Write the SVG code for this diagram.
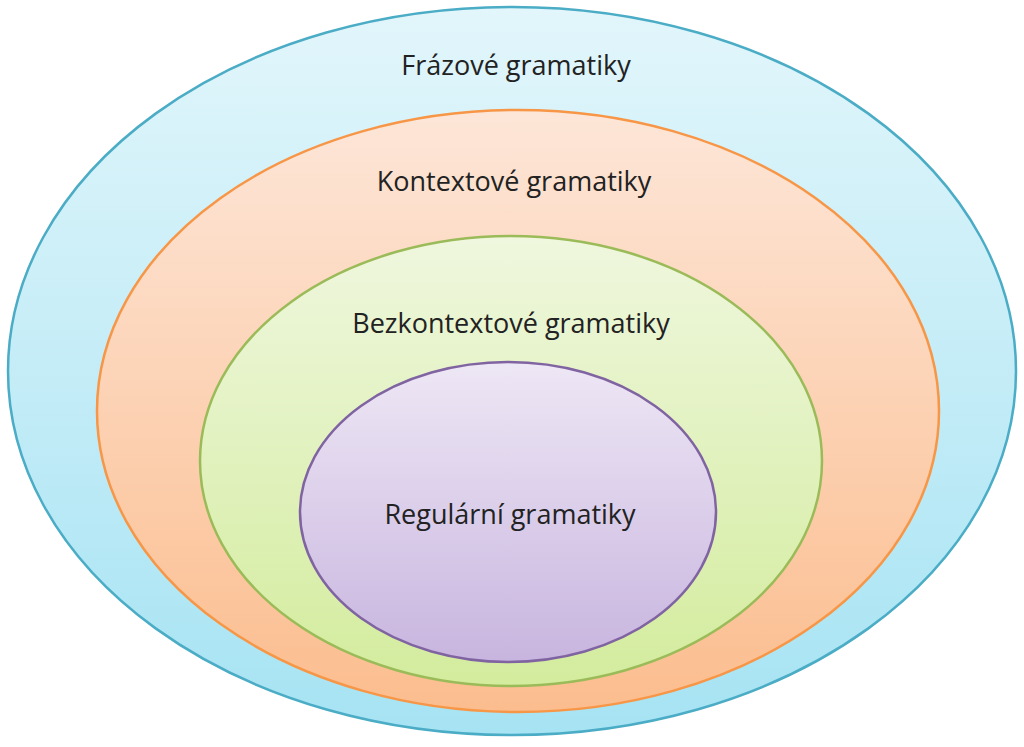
<svg xmlns="http://www.w3.org/2000/svg" width="1024" height="747" viewBox="0 0 1024 747">
<defs>
<linearGradient id="gb" x1="0" y1="0" x2="0" y2="1"><stop offset="0" stop-color="#e2f6fb"/><stop offset="1" stop-color="#a6e3f3"/></linearGradient>
<linearGradient id="go" x1="0" y1="0" x2="0" y2="1"><stop offset="0" stop-color="#fde6d8"/><stop offset="1" stop-color="#fbbd8e"/></linearGradient>
<linearGradient id="gg" x1="0" y1="0" x2="0" y2="1"><stop offset="0" stop-color="#eff7de"/><stop offset="1" stop-color="#d3ec9d"/></linearGradient>
<linearGradient id="gp" x1="0" y1="0" x2="0" y2="1"><stop offset="0" stop-color="#eee7f5"/><stop offset="1" stop-color="#c8b5df"/></linearGradient>
<style>text{font-family:"Open Sans","Liberation Sans",sans-serif;font-size:27px;fill:#222;text-anchor:middle}ellipse{stroke-width:2.5}</style>
</defs>
<g id="frazove"><ellipse cx="512" cy="371" rx="504" ry="364" fill="url(#gb)" stroke="#4bacc6"/><text x="516" y="75">Frázové gramatiky</text></g>
<g id="kontextove"><ellipse cx="518" cy="411" rx="421" ry="301" fill="url(#go)" stroke="#f79646"/><text x="514" y="191">Kontextové gramatiky</text></g>
<g id="bezkontextove"><ellipse cx="511" cy="461" rx="311" ry="225" fill="url(#gg)" stroke="#9bbb59"/><text x="511" y="333">Bezkontextové gramatiky</text></g>
<g id="regularni"><ellipse cx="508" cy="512" rx="208" ry="150" fill="url(#gp)" stroke="#8064a2"/><text x="510" y="524">Regulární gramatiky</text></g>
<g id="connectors"/>
</svg>
